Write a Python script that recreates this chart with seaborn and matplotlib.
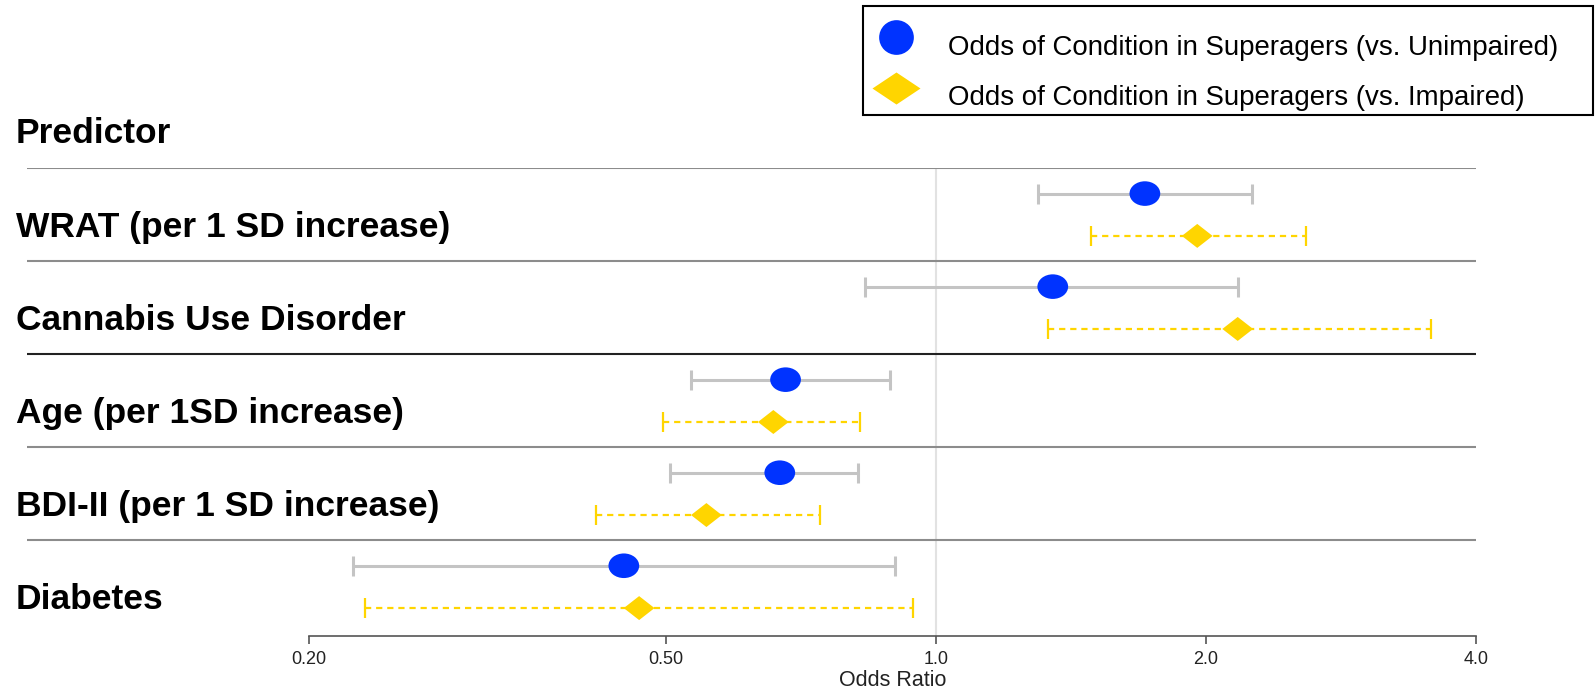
import numpy as np
import pandas as pd
import matplotlib
matplotlib.use("Agg")
import matplotlib.pyplot as plt
import matplotlib.transforms as mtransforms
from matplotlib.path import Path
from matplotlib.markers import MarkerStyle
from matplotlib.lines import Line2D
from matplotlib.patches import Rectangle
from matplotlib.ticker import NullLocator
import seaborn as sns

# ---- data -------------------------------------------------------------
predictors = [
    "WRAT (per 1 SD increase)",
    "Cannabis Use Disorder",
    "Age (per 1SD increase)",
    "BDI-II (per 1 SD increase)",
    "Diabetes",
]
series_labels = [
    "Odds of Condition in Superagers (vs. Unimpaired)",
    "Odds of Condition in Superagers (vs. Impaired)",
]
or_unimpaired = [1.71, 1.35, 0.68, 0.67, 0.449]
lo_unimpaired = [1.30, 0.834, 0.533, 0.505, 0.224]
hi_unimpaired = [2.25, 2.17, 0.888, 0.819, 0.901]
or_impaired = [1.956, 2.17, 0.659, 0.555, 0.467]
lo_impaired = [1.488, 1.332, 0.497, 0.418, 0.231]
hi_impaired = [2.584, 3.566, 0.823, 0.742, 0.943]
xticks = [0.2, 0.5, 1.0, 2.0, 4.0]
xtick_labels = ["0.20", "0.50", "1.0", "2.0", "4.0"]

# ---- style ------------------------------------------------------------
sns.set_style("white")
plt.rcParams["font.family"] = ["Liberation Sans", "DejaVu Sans"]
plt.rcParams["text.color"] = "black"

BLUE = "#0033ff"
GOLD = "#ffd500"
CI_GRAY = "#c4c4c4"
SEP_COLORS = ["#8c8c8c", "#8c8c8c", "#222222", "#8c8c8c", "#8c8c8c"]

# vertical offsets of the two estimates inside each predictor row
OFFSETS = {series_labels[0]: 0.275, series_labels[1]: 0.73}

rows = []
for i, p in enumerate(predictors):
    rows.append(dict(predictor=p, series=series_labels[0], OR=or_unimpaired[i],
                     lo=lo_unimpaired[i], hi=hi_unimpaired[i]))
    rows.append(dict(predictor=p, series=series_labels[1], OR=or_impaired[i],
                     lo=lo_impaired[i], hi=hi_impaired[i]))
df = pd.DataFrame(rows)
df["row"] = df["predictor"].map({p: i for i, p in enumerate(predictors)})
df["ypos"] = df["row"] + df["series"].map(OFFSETS)

# marker shapes: slightly flattened ellipse and diamond
ellipse_path = mtransforms.Affine2D().scale(1.0, 0.8).transform_path(Path.unit_circle())
diamond_path = Path([(1, 0), (0, 0.78), (-1, 0), (0, -0.78), (0, 0)],
                    [Path.MOVETO, Path.LINETO, Path.LINETO, Path.LINETO, Path.CLOSEPOLY])

# ---- figure -----------------------------------------------------------
W, H = 1596, 692
fig = plt.figure(figsize=(W / 100, H / 100), dpi=100)
ax_left, ax_right, ax_top, ax_bottom = 27, 1476, 168, 636
ax = fig.add_axes([ax_left / W, 1 - ax_bottom / H,
                   (ax_right - ax_left) / W, (ax_bottom - ax_top) / H])
ax.set_xscale("log")
ax.set_xlim(0.09706, 4.0)
ax.set_ylim(5.03, 0)

# reference line at OR = 1 and row separators
ax.axvline(1.0, color="#e2e2e2", lw=1.5, zorder=1)
for i, c in enumerate(SEP_COLORS):
    ax.axhline(i, color=c, lw=1.5, zorder=2)

# confidence intervals
sub_u = df[df["series"] == series_labels[0]]
sub_i = df[df["series"] == series_labels[1]]
ax.errorbar(sub_u["OR"], sub_u["ypos"],
            xerr=[sub_u["OR"] - sub_u["lo"], sub_u["hi"] - sub_u["OR"]],
            fmt="none", ecolor=CI_GRAY, elinewidth=2.2, capsize=7.2, capthick=2.2,
            zorder=3)
eb = ax.errorbar(sub_i["OR"], sub_i["ypos"],
                 xerr=[sub_i["OR"] - sub_i["lo"], sub_i["hi"] - sub_i["OR"]],
                 fmt="none", ecolor=GOLD, elinewidth=1.6, capsize=7.2, capthick=1.6,
                 zorder=3)
eb[2][0].set_linestyle((0, (2.8, 2.2)))

# point estimates
sns.scatterplot(data=df, x="OR", y="ypos", hue="series", style="series",
                palette={series_labels[0]: BLUE, series_labels[1]: GOLD},
                markers={series_labels[0]: MarkerStyle(ellipse_path),
                         series_labels[1]: MarkerStyle(diamond_path)},
                s=490, linewidth=0, legend=False, ax=ax, zorder=4)

# axes cosmetics
for side in ["top", "right", "left"]:
    ax.spines[side].set_visible(False)
ax.spines["bottom"].set_bounds(0.2, 4.0)
ax.spines["bottom"].set_color("#555555")
ax.spines["bottom"].set_linewidth(1.2)
ax.set_yticks([])
ax.set_ylabel("")
ax.set_xticks(xticks, xtick_labels)
ax.xaxis.set_minor_locator(NullLocator())
ax.tick_params(axis="x", which="major", length=6, width=1.2, color="#555555",
               labelsize=13, labelcolor="#222222", pad=5, bottom=True, direction="out")
ax.set_xlabel("Odds Ratio", fontsize=15.5, color="#222222")
ax.xaxis.label.set_va("center")
ax.xaxis.set_label_coords(np.sqrt(0.2 * 4.0), (ax_bottom - 680) / (ax_bottom - ax_top),
                          transform=mtransforms.blended_transform_factory(ax.transData, ax.transAxes))

# predictor labels
label_tf = mtransforms.blended_transform_factory(fig.transFigure, ax.transData)
for i, p in enumerate(predictors):
    ax.text(16 / W, i + 0.737, p, transform=label_tf, fontsize=25.5,
            fontweight="bold", va="baseline", ha="left", color="black")
fig.text(16 / W, 1 - 143.3 / H, "Predictor", fontsize=25.5, fontweight="bold",
         va="baseline", ha="left", color="black")

# legend
legend_diamond = mtransforms.Affine2D().scale(1.0, 0.667).transform_path(
    Path([(1, 0), (0, 1), (-1, 0), (0, -1), (0, 0)],
         [Path.MOVETO, Path.LINETO, Path.LINETO, Path.LINETO, Path.CLOSEPOLY]))
handles = [
    Line2D([], [], linestyle="none",
           marker=MarkerStyle("o", transform=mtransforms.Affine2D().translate(0, 0.23)),
           markersize=25, markerfacecolor=BLUE, markeredgewidth=0),
    Line2D([], [], linestyle="none",
           marker=MarkerStyle(legend_diamond,
                              transform=mtransforms.Affine2D().translate(0, 0.166)),
           markersize=34.6, markerfacecolor=GOLD, markeredgewidth=0),
]
fig.legend(handles, series_labels, loc="upper left",
           bbox_to_anchor=(874 / W, 1 - 35 / H), frameon=False,
           prop={"family": ["Liberation Sans"], "size": 19.9},
           labelcolor="black",
           borderpad=0, borderaxespad=0, handlelength=1.6, handletextpad=1.07,
           labelspacing=0.88)
fig.add_artist(Rectangle((863 / W, 1 - 115 / H), (1593 - 863) / W, (115 - 6) / H,
                         transform=fig.transFigure, fill=False,
                         edgecolor="black", linewidth=1.5))

fig.savefig("out.png", dpi=100)
